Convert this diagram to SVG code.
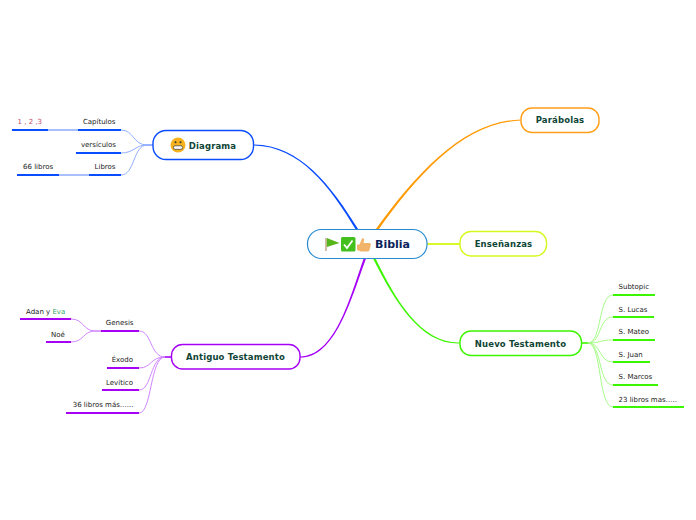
<svg xmlns="http://www.w3.org/2000/svg" width="696" height="520" viewBox="0 0 696 520">
<style>
text{font-family:"DejaVu Sans",Verdana,sans-serif}
.main{font-size:8.5px;font-weight:700;fill:#0f4536;text-anchor:middle;letter-spacing:.14px}
.sub{font-size:7px;fill:#222}
.e{text-anchor:end}
.box{fill:#fff;stroke-width:1.4}
.thin{stroke-width:.9;fill:none}
.u{stroke-width:2;fill:none}
.blue{stroke:#0a4dff}.lb{stroke:#86a5ff}
.pur{stroke:#a600f5}.lp{stroke:#cc78ff}
.grn{stroke:#3cf500}.lg{stroke:#9dfa7c}
</style>
<rect width="696" height="520" fill="#fff"/>
<g id="connectors">
<path fill="#0a4dff" d="M254 144.400C300 145.300 330.800 184.500 359 230.400L357 231.600C329.200 185.500 300 146.700 254 145.600Z"/>
<path fill="#ff9900" d="M377 231.700C420.700 170.500 465.300 122.700 521 120.600V119.400C464.700 121.300 419.300 169.500 375 230.300Z"/>
<path fill="#d9fa2a" d="M427 243H460V245H427Z"/>
<path fill="#3cf500" d="M375 257.500C395.700 299.600 420.300 343.300 460 342.400V343.600C419.700 344.700 394.300 300.400 373 258.500Z"/>
<path fill="#a600f5" d="M366 258.400C350.700 300.300 335.300 357.700 300 357.600V356.400C334.700 356.300 349.300 299.700 364 257.600Z"/>
<g class="lb thin">
<path d="M153 145H147C133 145 134 130 121 130"/>
<path d="M153 145H147C135 145 134 153 121 153"/>
<path d="M153 145H147C133 145 135 175 121 175"/>
</g>
<path class="blue u" d="M78 130H121M76 153H121M89 175H121M12 130H48M17 175H59"/>
<path stroke="#a9bfff" stroke-width="2" fill="none" d="M48 130H78M59 175H89"/>
<g class="lp thin">
<path d="M171 357H165C150 357 152 331 139 331"/>
<path d="M171 357H165C150 357 152 368 139 368"/>
<path d="M171 357H165C150 357 152 390 139 390"/>
<path d="M171 357H165C150 357 152 413 139 413"/>
<path d="M101 331H95C83 331 84 319 71 319"/>
<path d="M101 331H95C83 331 84 342 71 342"/>
</g>
<path class="pur u" d="M101 331H139M107 368H139M102 390H139M66 413H139M20 319H71M46 342H71"/>
<path class="pur" stroke-width="1.2" d="M165 357H171" fill="none"/>
<g class="lg thin">
<path d="M582 343H588C602 343 598 295 613 295"/>
<path d="M582 343H588C602 343 598 317 613 317"/>
<path d="M582 343H588C602 343 598 340 613 340"/>
<path d="M582 343H588C602 343 598 362 613 362"/>
<path d="M582 343H588C602 343 598 385 613 385"/>
<path d="M582 343H588C602 343 598 407 613 407"/>
</g>
<path class="grn u" d="M613 295H655M613 317H654M613 340H655M613 362H650M613 385H658M613 407H684"/>
<path class="grn" stroke-width="1.2" d="M582 343H588" fill="none"/>
</g>
<g id="biblia">
<rect x="307.500" y="229.500" width="119.500" height="29" rx="14" fill="#fdfeff" stroke="#2a8ad0" stroke-width="1.2"/>
<rect x="325.200" y="238" width="1.600" height="13" fill="#c9ad8e"/>
<path d="M326.800 238L339.500 243L326.800 247Z" fill="#57b51c"/>
<rect x="341" y="237" width="14.500" height="14.500" rx="1.500" fill="#43c01e"/>
<path d="M344 244.500L347 248L352.500 240.500" fill="none" stroke="#fff" stroke-width="1.800"/>
<path d="M357 244.500H359.500L362 238.500C363.500 237.800 364.500 239 364 241L363.500 243H369.500C371 243 371 245 370.500 246L369.500 250C369 251 368.500 251.500 367 251.500H361L357 250Z" fill="#f2b46a"/>
<text x="392.500" y="248" font-size="11" font-weight="700" fill="#0b2259" text-anchor="middle">Biblia</text>
</g>
<g id="diagrama">
<rect class="box" x="153" y="130.500" width="100.500" height="29" rx="13" stroke="#0a4dff"/>
<circle cx="178" cy="145" r="7.500" fill="#f7b21f"/>
<circle cx="175.500" cy="142.300" r="1" fill="#333"/><circle cx="180.500" cy="142.300" r="1" fill="#333"/>
<rect x="173.500" y="145.800" width="9" height="3.500" rx="1.500" fill="#fff" stroke="#333" stroke-width=".7"/>
<text class="main" x="212.500" y="149">Diagrama</text>
</g>
<g id="capitulos"><text class="sub e" x="115.500" y="124">Capítulos</text></g>
<g id="n123"><text class="sub" x="17.500" y="124" style="fill:#c2486a">1 , 2 ,3</text></g>
<g id="versiculos"><text class="sub e" x="116" y="147">versículos</text></g>
<g id="libros"><text class="sub e" x="115.500" y="169">Libros</text></g>
<g id="libros66"><text class="sub" x="23" y="169">66 libros</text></g>
<g id="parabolas">
<rect class="box" x="521" y="108" width="78" height="24.500" rx="11" stroke="#ff9f1a"/>
<text class="main" x="560" y="123">Parábolas</text>
</g>
<g id="ensenanzas">
<rect class="box" x="460" y="231.500" width="86.500" height="24.500" rx="11" stroke="#d5f91e"/>
<text class="main" x="503.500" y="247">Enseñanzas</text>
</g>
<g id="nuevo">
<rect class="box" x="460" y="331" width="121.500" height="24.500" rx="11" stroke="#3cf500"/>
<text class="main" x="520.500" y="347">Nuevo Testamento</text>
</g>
<g id="antiguo">
<rect class="box" x="171.500" y="344.500" width="128.500" height="24.500" rx="11" stroke="#a600f5"/>
<text class="main" x="235.500" y="360">Antiguo Testamento</text>
</g>
<g id="genesis"><text class="sub e" x="133.500" y="325">Genesis</text></g>
<g id="adan"><text class="sub" x="26" y="314">Adan y <tspan style="fill:#2fa866">Eva</tspan></text></g>
<g id="noe"><text class="sub" x="51" y="337">Noé</text></g>
<g id="exodo"><text class="sub e" x="133" y="362">Éxodo</text></g>
<g id="levitico"><text class="sub e" x="133" y="385">Levítico</text></g>
<g id="libros36"><text class="sub e" x="133.500" y="407">36 libros más…...</text></g>
<g id="subtopic"><text class="sub" x="618.500" y="289">Subtopic</text></g>
<g id="lucas"><text class="sub" x="618.500" y="312">S. Lucas</text></g>
<g id="mateo"><text class="sub" x="618.500" y="334">S. Mateo</text></g>
<g id="juan"><text class="sub" x="618.500" y="357">S. Juan</text></g>
<g id="marcos"><text class="sub" x="618.500" y="379">S. Marcos</text></g>
<g id="libros23"><text class="sub" x="618.500" y="402">23 libros mas…..</text></g>
</svg>
